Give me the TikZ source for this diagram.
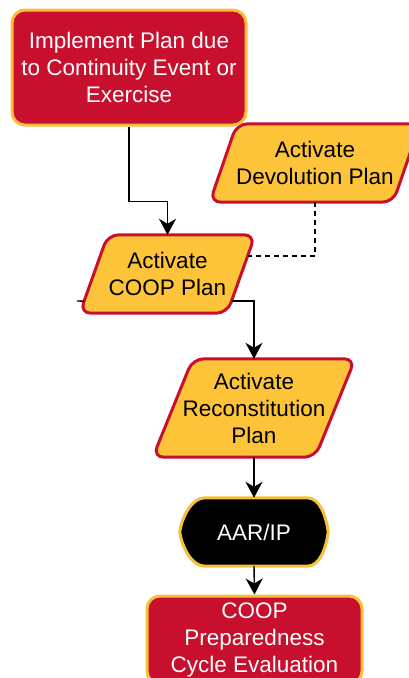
\documentclass[tikz,border=0pt]{standalone}
\usepackage{fontspec}
\setmainfont{Liberation Sans}
\usetikzlibrary{arrows.meta,calc}
\pgfdeclarelayer{background}
\pgfsetlayers{background,main}

\definecolor{boxred}{HTML}{C8102E}
\definecolor{boxgold}{HTML}{F7BE3A}
\definecolor{paryellow}{HTML}{FDC43A}

\tikzset{
  lbl/.style={font=\fontsize{22.5}{27}\selectfont, align=center, inner sep=0pt},
  redbox/.style={lbl, text=white, fill=boxred, draw=boxgold, line width=3pt,
                 rounded corners=13pt},
  parabox/.style={lbl, text=black},
  paraframe/.style={fill=paryellow, draw=boxred, line width=3pt, rounded corners=11pt},
  blackframe/.style={fill=black, draw=boxgold, line width=3pt, line join=round},
  arr/.style={line width=1.4pt, -{Stealth[length=16pt,width=17pt,inset=5pt]}},
  link/.style={line width=1.4pt},
  dashlink/.style={line width=1.4pt, dash pattern=on 5pt off 4pt}
}

\begin{document}
\begin{tikzpicture}[x=1pt, y=-1pt]
\useasboundingbox (0,0) rectangle (409,678);
\clip (0,0) rectangle (409,678);

% start box
\node[redbox, minimum width=234pt, minimum height=115pt] (impl) at (129,67.5)
  {Implement Plan due\\to Continuity Event or\\Exercise};

% parallelogram labels (frames drawn behind on the background layer)
\node[parabox, minimum width=210pt, minimum height=78pt] (devo) at (315,163)
  {Activate\\Devolution Plan};
\node[parabox, minimum width=175pt, minimum height=78pt] (coop) at (167.5,274)
  {Activate\\COOP Plan};
\node[parabox, minimum width=202pt, minimum height=98pt] (recon) at (254,408)
  {Activate\\Reconstitution\\Plan};

% after-action review
\node[lbl, text=white, minimum width=148pt, minimum height=68pt] (aar) at (254,532)
  {AAR/IP};

% evaluation box
\node[redbox, minimum width=215pt, minimum height=88pt] (eval) at (254.5,640)
  {COOP\\Preparedness\\Cycle Evaluation};

\begin{pgfonlayer}{background}
  \draw[paraframe] ([xshift=27pt]devo.north west) -- (devo.north east)
    -- ([xshift=-27pt]devo.south east) -- (devo.south west) -- cycle;
  \draw[paraframe] ([xshift=28pt]coop.north west) -- (coop.north east)
    -- ([xshift=-28pt]coop.south east) -- (coop.south west) -- cycle;
  \draw[paraframe] ([xshift=40pt]recon.north west) -- (recon.north east)
    -- ([xshift=-40pt]recon.south east) -- (recon.south west) -- cycle;
  \draw[blackframe]
    ([xshift=25pt]aar.north west) -- ([xshift=-21pt]aar.north east)
    .. controls +(13,0) and +(-2,-15) .. (aar.east)
    .. controls +(-2,15) and +(13,0) .. ([xshift=-21pt]aar.south east)
    -- ([xshift=25pt]aar.south west)
    .. controls +(-13,0) and +(2,15) .. (aar.west)
    .. controls +(2,-15) and +(-13,0) .. ([xshift=25pt]aar.north west) -- cycle;
\end{pgfonlayer}

% points on the slanted sides of the COOP frame
\coordinate (coopR1) at ($(coop.north east)!0.27!([xshift=-28pt]coop.south east)$);
\coordinate (coopR2) at ($(coop.north east)!0.846!([xshift=-28pt]coop.south east)$);
\coordinate (coopL2) at ($([xshift=28pt]coop.north west)!0.846!(coop.south west)$);
\coordinate (stub) at (77,301);

% connectors
\draw[arr] (impl.south) -- ++(0,75) -| (coop.north);
\draw[dashlink] (devo.south) |- (coopR1);
\draw[arr] (coopR2) -| (recon.north);
\draw[link] (coopL2) -- (stub);
\draw[arr] (recon.south) -- (aar.north);
\draw[arr] (aar.south) -- (eval.north);
\end{tikzpicture}
\end{document}
